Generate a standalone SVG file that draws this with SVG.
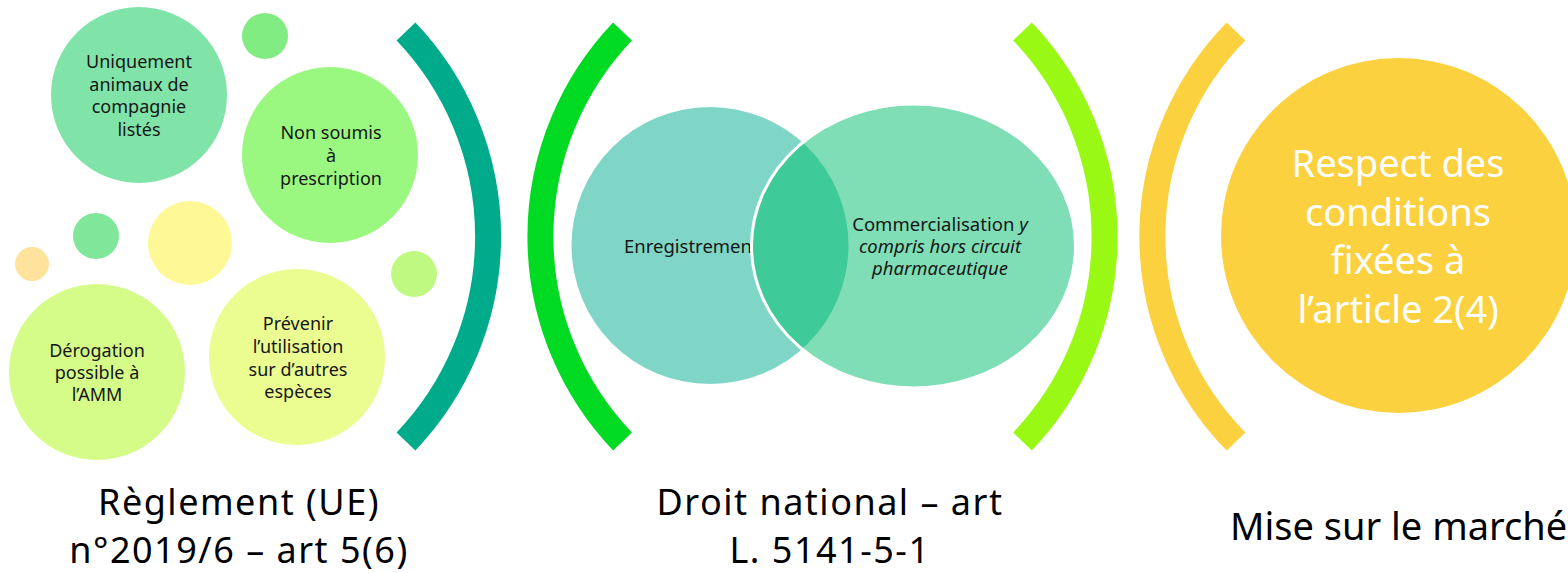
<svg xmlns="http://www.w3.org/2000/svg" width="1568" height="573" viewBox="0 0 1568 573">
<style>
.t{font-family:"Noto Sans","DejaVu Sans",sans-serif;fill:#161616;text-anchor:middle}
.s{font-size:18px}
.v{font-size:18.5px}
.big{font-size:38px;fill:#ffffff}
.lbl{font-size:36px;letter-spacing:1.5px;fill:#000}
.br{fill:none;stroke-linecap:butt;stroke-width:26}
</style>
<rect width="1568" height="573" fill="#ffffff"/>
<g id="connectors">
<path class="br" d="M406 31.5 A297 297 0 0 1 406 441.5" stroke="#00AB8C"/>
<path class="br" d="M622.5 31.5 A297 297 0 0 0 622.5 441.5" stroke="#00DA23"/>
<path class="br" d="M1022.5 31.5 A297 297 0 0 1 1022.5 441.5" stroke="#99F915"/>
<path class="br" d="M1236 31.5 A293 293 0 0 0 1236 441.5" stroke="#FBD13F"/>
</g>
<g id="deco">
<circle cx="265" cy="36" r="23" fill="#81EC82"/>
<circle cx="96" cy="236" r="23" fill="#80E69A"/>
<circle cx="190" cy="243" r="42" fill="#FEF896"/>
<circle cx="32" cy="264" r="17" fill="#FFE39C"/>
<circle cx="414" cy="274" r="23" fill="#BFF982"/>
</g>
<g id="n-uniquement">
<circle cx="139" cy="95" r="88" fill="#80E3A8"/>
<text class="t s" x="139" y="68">Uniquement</text>
<text class="t s" x="139" y="91">animaux de</text>
<text class="t s" x="139" y="113">compagnie</text>
<text class="t s" x="139" y="136">listés</text>
</g>
<g id="n-nonsoumis">
<circle cx="330" cy="155" r="88" fill="#9AF880"/>
<text class="t s" x="331" y="139">Non soumis</text>
<text class="t s" x="331" y="162">à</text>
<text class="t s" x="331" y="185">prescription</text>
</g>
<g id="n-derogation">
<circle cx="97" cy="372" r="88" fill="#D5FB88"/>
<text class="t s" x="97" y="357">Dérogation</text>
<text class="t s" x="97" y="379">possible à</text>
<text class="t s" x="97" y="401">l’AMM</text>
</g>
<g id="n-prevenir">
<circle cx="297" cy="357" r="88" fill="#EBFC90"/>
<text class="t s" x="298" y="330">Prévenir</text>
<text class="t s" x="298" y="353">l’utilisation</text>
<text class="t s" x="298" y="376">sur d’autres</text>
<text class="t s" x="298" y="398">espèces</text>
</g>
<g id="n-enregistrement">
<circle cx="710" cy="245.5" r="138.5" fill="#00AD8D" fill-opacity="0.5"/>
<text class="t v" x="624" y="253" style="text-anchor:start">Enregistremen</text>
</g>
<g id="n-commercialisation">
<ellipse cx="913.5" cy="246" rx="162" ry="142" fill="#00BE6E" fill-opacity="0.5" stroke="#ffffff" stroke-width="3"/>
<text class="t v" x="940" y="231">Commercialisation <tspan font-style="italic">y</tspan></text>
<text class="t v" x="940" y="253" font-style="italic">compris hors circuit</text>
<text class="t v" x="940" y="275" font-style="italic">pharmaceutique</text>
</g>
<g id="n-respect">
<circle cx="1398.5" cy="235.5" r="177.5" fill="#FCD140"/>
<text class="t big" x="1398" y="177">Respect des</text>
<text class="t big" x="1398" y="226">conditions</text>
<text class="t big" x="1398" y="274">fixées à</text>
<text class="t big" x="1398" y="323">l’article 2(4)</text>
</g>
<g id="l-reglement">
<text class="t lbl" x="239" y="515">Règlement (UE)</text>
<text class="t lbl" x="239" y="563">n°2019/6 – art 5(6)</text>
</g>
<g id="l-droit">
<text class="t lbl" x="830" y="515">Droit national – art</text>
<text class="t lbl" x="830" y="563">L. 5141-5-1</text>
</g>
<g id="l-mise">
<text class="t" x="1230" y="540" style="text-anchor:start;font-size:38px;fill:#000">Mise sur le marché</text>
</g>
</svg>
